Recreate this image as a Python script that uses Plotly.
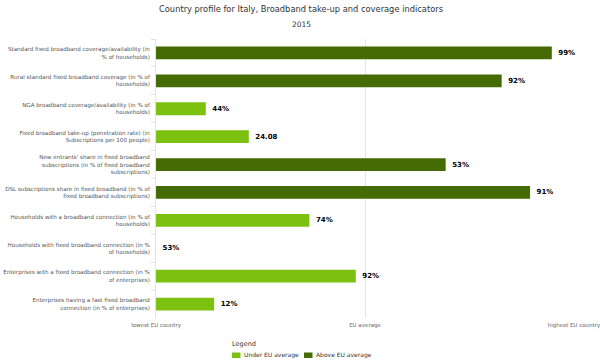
import plotly.graph_objects as go

categories = [
    "Standard fixed broadband coverage/availability (in<br>% of households)",
    "Rural standard fixed broadband coverage (in % of<br>households)",
    "NGA broadband coverage/availability (in % of<br>households)",
    "Fixed broadband take-up (penetration rate) (in<br>Subscriptions per 100 people)",
    "New entrants' share in fixed broadband<br>subscriptions (in % of fixed broadband<br>subscriptions)",
    "DSL subscriptions share in fixed broadband (in % of<br>fixed broadband subscriptions)",
    "Households with a broadband connection (in % of<br>households)",
    "Households with fixed broadband connection (in %<br>of households)",
    "Enterprises with a fixed broadband connection (in %<br>of enterprises)",
    "Enterprises having a fast fixed broadband<br>connection (in % of enterprises)",
]
# relative position between lowest EU country (0) and highest (100), EU avg = 50
scores = [94.7, 82.7, 11.9, 22.2, 69.3, 89.5, 36.7, 0.0, 47.8, 13.9]
value_labels = ["99%", "92%", "44%", "24.08", "53%", "91%", "74%", "53%", "92%", "12%"]
above_avg = [True, True, False, False, True, True, False, False, False, False]
tick_vals = [0, 50, 100]
tick_text = ["lowest EU country", "EU average", "highest EU country"]
series_names = ["Under EU average", "Above EU average"]

UNDER = "#7cc110"
ABOVE = "#456b04"
colors = [UNDER, ABOVE]

fig = go.Figure()
for name, flag, color in [(series_names[0], False, UNDER), (series_names[1], True, ABOVE)]:
    idx = [i for i in range(len(categories)) if above_avg[i] == flag]
    fig.add_trace(go.Bar(
        orientation="h",
        y=[categories[i] for i in idx],
        x=[scores[i] for i in idx],
        text=[value_labels[i] for i in idx],
        texttemplate="\u2002%{text}",
        textposition="outside",
        cliponaxis=False,
        textfont=dict(family="DejaVu Sans", size=7, color="#000000", weight="bold"),
        marker=dict(color=color, line=dict(width=0)),
        width=0.46,
        name=name,
        showlegend=False,
        hoverinfo="skip",
    ))

PL, PT, PW, PH = 156, 39, 418, 279  # plot area in pixels


def px_x(x):
    return (x - PL) / PW


def px_y(y):
    return (PT + PH - y) / PH


annotations = [
    dict(text="Country profile for Italy, Broadband take-up and coverage indicators",
         xref="paper", yref="paper", x=px_x(301), y=px_y(9),
         xanchor="center", yanchor="middle", showarrow=False,
         font=dict(family="DejaVu Sans", size=8.3, color="#333333")),
    dict(text="2015",
         xref="paper", yref="paper", x=px_x(301), y=px_y(24),
         xanchor="center", yanchor="middle", showarrow=False,
         font=dict(family="DejaVu Sans", size=7.5, color="#333333")),
    dict(text="Legend", xref="paper", yref="paper",
         x=px_x(230), y=px_y(344),
         xanchor="left", yanchor="middle", showarrow=False,
         font=dict(family="DejaVu Sans", size=6.5, color="#333333")),
]
shapes = []
legend_x = [232, 304]
for i, nm in enumerate(series_names):
    shapes.append(dict(type="rect", xref="paper", yref="paper",
                       x0=px_x(legend_x[i]), x1=px_x(legend_x[i] + 8.5),
                       y0=px_y(358), y1=px_y(352.5),
                       fillcolor=colors[i], line=dict(width=0)))
    annotations.append(dict(text=nm, xref="paper", yref="paper",
                            x=px_x(legend_x[i] + 10), y=px_y(355.3),
                            xanchor="left", yanchor="middle", showarrow=False,
                            font=dict(family="DejaVu Sans", size=6, color="#333333")))

fig.update_layout(
    width=600, height=362,
    margin=dict(l=PL, r=600 - PL - PW, t=PT, b=362 - PT - PH, autoexpand=False),
    paper_bgcolor="white", plot_bgcolor="white",
    barmode="overlay",
    showlegend=False,
    hovermode=False,
    font=dict(family="DejaVu Sans", color="#666666"),
    xaxis=dict(
        range=[-0.01, 100.01], tickvals=tick_vals, ticktext=tick_text,
        showgrid=True, gridcolor="#e6e6e6", gridwidth=1,
        zeroline=False, showline=False, automargin=False,
        tickfont=dict(size=5.5, color="#666666"),
        ticks="", ticklabelstandoff=2, ticklabeloverflow="allow",
    ),
    yaxis=dict(
        categoryorder="array", categoryarray=categories, autorange="reversed",
        tickfont=dict(size=5.6, color="#555555"), automargin=False,
        showline=True, linecolor="#dfe3ea", linewidth=1,
        ticks="outside", tickson="boundaries", ticklen=4, tickcolor="#dfe3ea",
        showgrid=False, ticklabelstandoff=4,
    ),
    annotations=annotations,
    shapes=shapes,
)

fig.write_html("out.html", config={"displayModeBar": False},
               post_script="document.body.style.margin='0px';")
